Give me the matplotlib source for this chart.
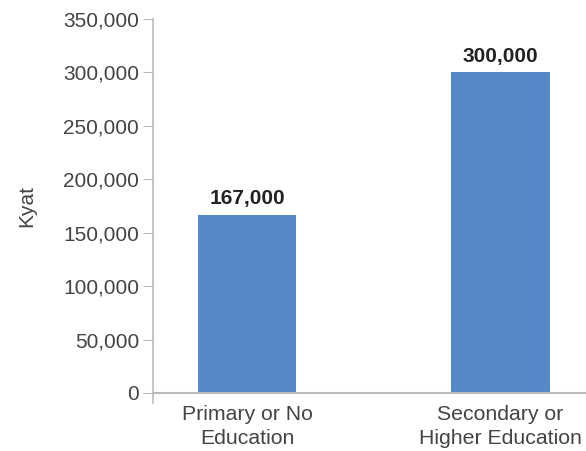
import numpy as np
import matplotlib.pyplot as plt

categories = ['Primary or No\nEducation', 'Secondary or\nHigher Education']
values = [167000, 300000]
yticks = [0, 50000, 100000, 150000, 200000, 250000, 300000, 350000]

plt.rcParams['font.family'] = ['Liberation Sans', 'DejaVu Sans']

fig = plt.figure(figsize=(5.86, 4.51), dpi=100)
ax = fig.add_axes([153 / 586, 1 - 393 / 451, 433 / 586, 374 / 451])

x = np.arange(len(categories))
ax.bar(x, values, width=0.39, color='#5587c9')
for xi, v in zip(x, values):
    ax.text(xi, v + 6000, f'{v:,}', ha='center', va='bottom',
            fontsize=15, fontweight='bold', color='#222222')

ax.set_xlim(-0.372, 1.339)
ax.set_ylim(0, 350000)
ax.set_yticks(yticks)
ax.set_yticklabels([f'{t:,}' for t in yticks])
ax.set_xticks(x)
ax.set_xticklabels(categories, linespacing=1.3)
ax.tick_params(axis='y', length=7, color='#bbbbbb', labelsize=15,
               labelcolor='#444444', pad=3)
ax.tick_params(axis='x', length=0, labelsize=15.3, labelcolor='#444444', pad=9)
ax.set_ylabel('Kyat', fontsize=15, color='#444444', labelpad=19)

for s in ['top', 'right', 'left']:
    ax.spines[s].set_visible(False)
ax.spines['bottom'].set_color('#bbbbbb')
ax.spines['bottom'].set_linewidth(1.5)
ax.plot([0, 0], [-0.027, 1], transform=ax.transAxes, color='#bbbbbb',
        lw=1.2, clip_on=False)

fig.savefig('out.png', dpi=100)
